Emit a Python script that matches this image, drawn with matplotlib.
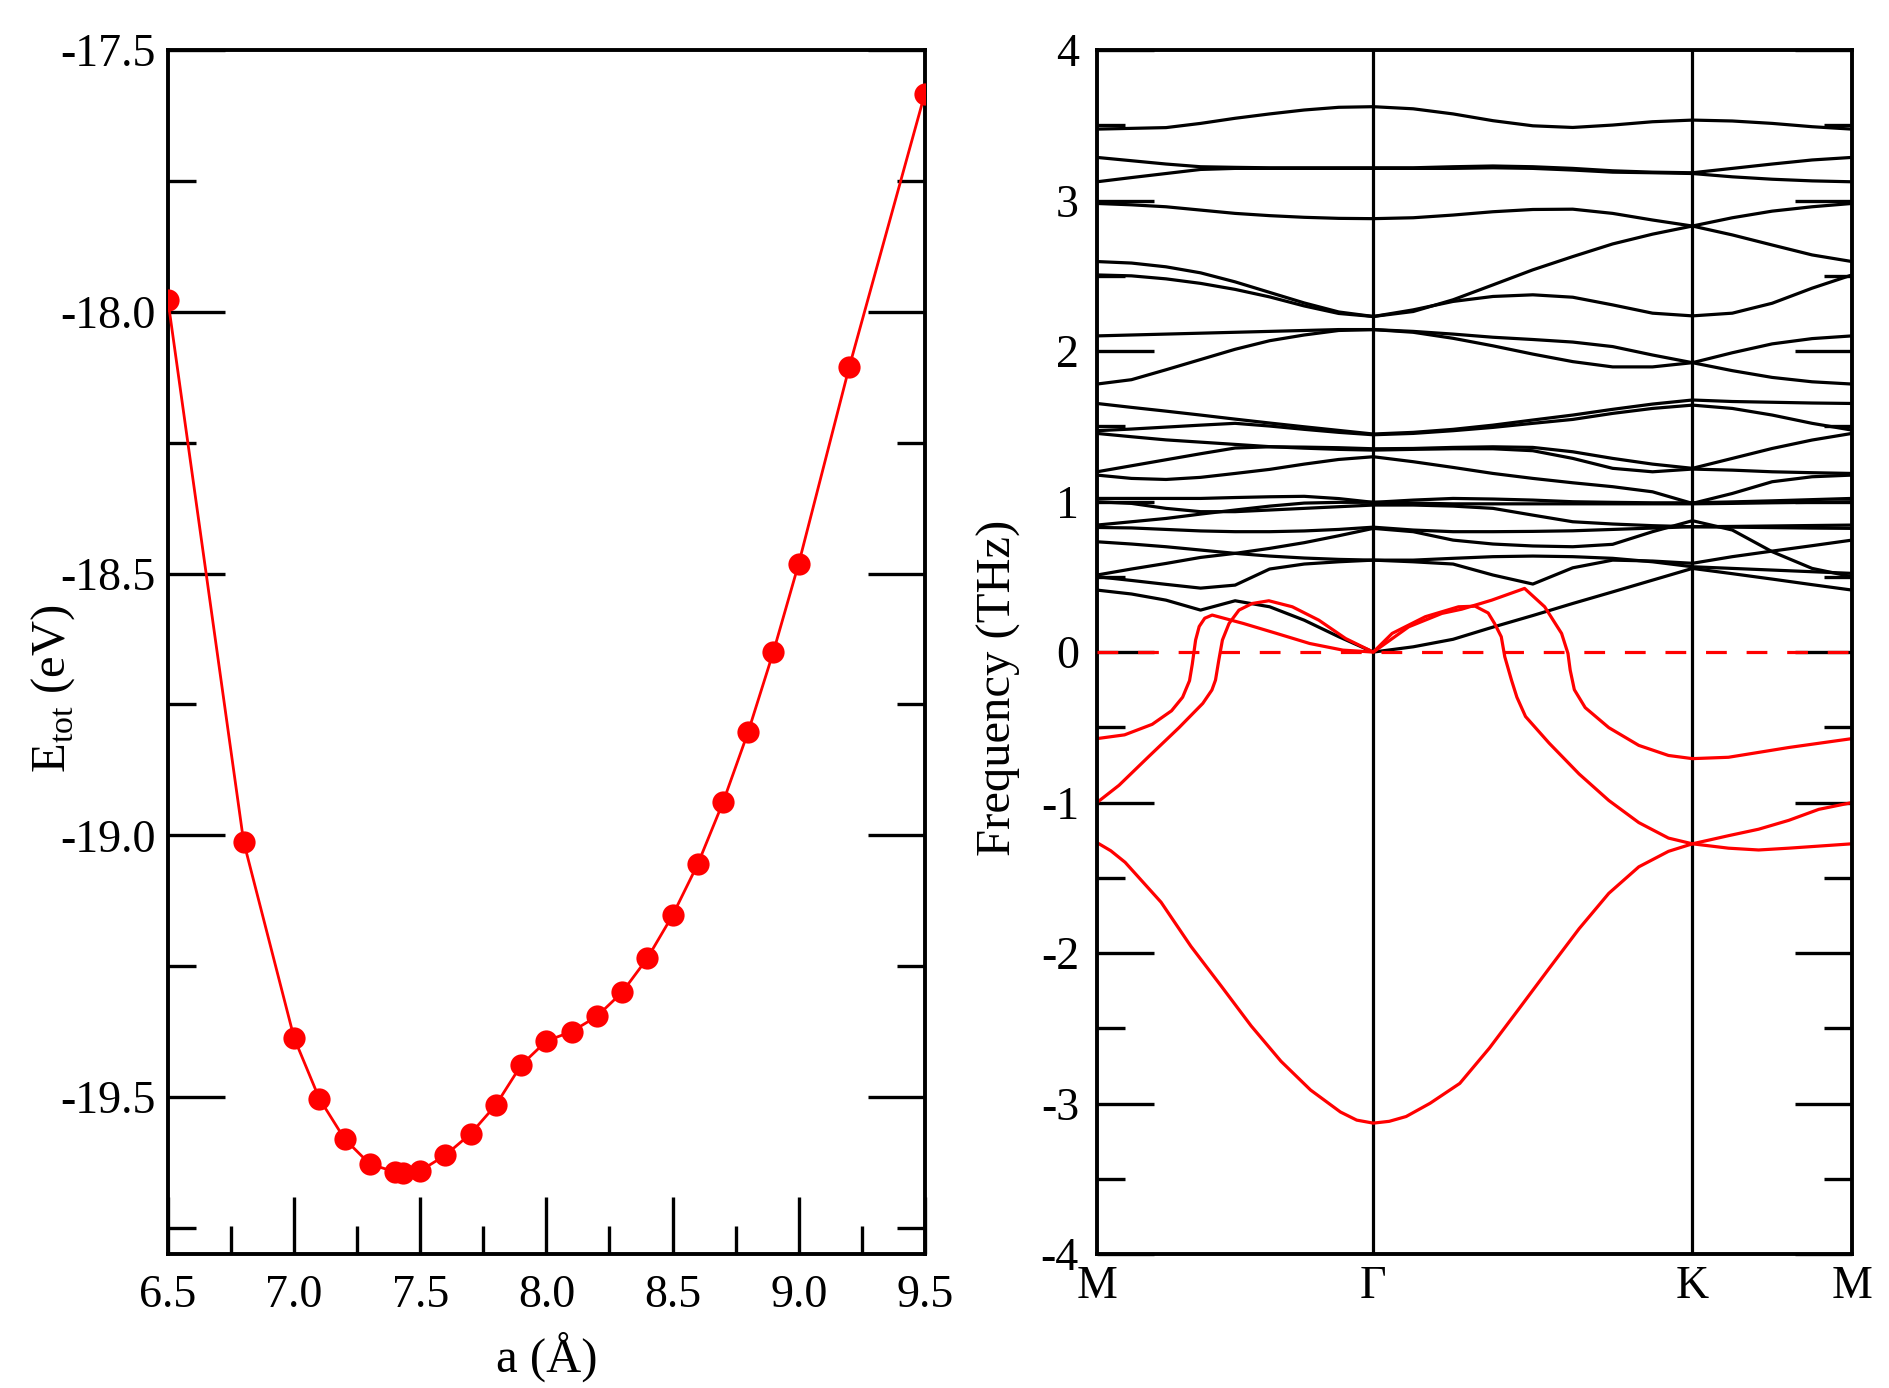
import numpy as np
import matplotlib
matplotlib.use("Agg")
import matplotlib.pyplot as plt
from matplotlib.ticker import MultipleLocator, FormatStrFormatter

plt.rcParams['font.family'] = ['Liberation Serif', 'DejaVu Serif']
plt.rcParams['mathtext.fontset'] = 'custom'
plt.rcParams['mathtext.rm'] = 'Liberation Serif'
plt.rcParams['axes.unicode_minus'] = False

# ---------------- left panel data: E_tot vs lattice constant ----------------
a_vals = [6.5, 6.8, 7.0, 7.1, 7.2, 7.3, 7.4, 7.43, 7.5, 7.6, 7.7, 7.8, 7.9, 8.0,
          8.1, 8.2, 8.3, 8.4, 8.5, 8.6, 8.7, 8.8, 8.9, 9.0, 9.2, 9.5]
E_vals = [-17.978, -19.012, -19.387, -19.503, -19.580, -19.628, -19.643, -19.646,
          -19.641, -19.611, -19.570, -19.515, -19.439, -19.393, -19.375, -19.346,
          -19.300, -19.235, -19.153, -19.055, -18.937, -18.802, -18.649, -18.481,
          -18.106, -17.583]

# ---------------- right panel data: phonon bands ----------------
path_labels = ['M', 'Γ', 'K', 'M']
seg_lengths = [0.866, 1.0, 0.5]          # |MΓ| : |ΓK| : |KM|
n_sub = [8, 8, 4]                        # sampling of each segment

# black bands (THz) sampled along M-Γ (9 pts), Γ-K (8 more), K-M (4 more)
black_bands = [
    [3.475, 3.48, 3.485, 3.513, 3.547, 3.576, 3.602, 3.62, 3.624, 3.61, 3.576, 3.531, 3.497, 3.486, 3.502, 3.524, 3.535, 3.529, 3.513, 3.491, 3.475],
    [3.287, 3.265, 3.243, 3.225, 3.221, 3.218, 3.218, 3.218, 3.218, 3.218, 3.225, 3.23, 3.225, 3.214, 3.198, 3.189, 3.185, 3.214, 3.243, 3.27, 3.287],
    [3.125, 3.153, 3.18, 3.207, 3.214, 3.214, 3.214, 3.214, 3.214, 3.214, 3.214, 3.218, 3.214, 3.203, 3.189, 3.185, 3.18, 3.158, 3.142, 3.131, 3.125],
    [2.981, 2.972, 2.959, 2.937, 2.915, 2.9, 2.889, 2.882, 2.88, 2.886, 2.904, 2.926, 2.941, 2.943, 2.915, 2.871, 2.831, 2.772, 2.705, 2.639, 2.595],
    [2.595, 2.585, 2.56, 2.52, 2.46, 2.39, 2.32, 2.26, 2.23, 2.263, 2.341, 2.44, 2.54, 2.628, 2.712, 2.777, 2.831, 2.886, 2.93, 2.959, 2.981],
    [2.506, 2.5, 2.48, 2.45, 2.41, 2.36, 2.30, 2.25, 2.23, 2.274, 2.33, 2.363, 2.374, 2.358, 2.307, 2.252, 2.234, 2.252, 2.318, 2.418, 2.506],
    [2.101, 2.107, 2.113, 2.119, 2.125, 2.131, 2.137, 2.143, 2.143, 2.131, 2.113, 2.092, 2.077, 2.06, 2.03, 1.974, 1.923, 1.87, 1.825, 1.796, 1.781],
    [1.781, 1.81, 1.876, 1.944, 2.012, 2.069, 2.107, 2.137, 2.143, 2.125, 2.085, 2.035, 1.98, 1.93, 1.895, 1.895, 1.923, 1.989, 2.048, 2.083, 2.101],
    [1.652, 1.626, 1.601, 1.575, 1.548, 1.522, 1.497, 1.473, 1.449, 1.46, 1.48, 1.508, 1.542, 1.575, 1.613, 1.648, 1.675, 1.665, 1.66, 1.655, 1.652],
    [1.471, 1.482, 1.495, 1.508, 1.52, 1.502, 1.48, 1.46, 1.444, 1.453, 1.471, 1.493, 1.52, 1.546, 1.586, 1.619, 1.641, 1.619, 1.575, 1.52, 1.475],
    [1.453, 1.431, 1.41, 1.395, 1.38, 1.365, 1.355, 1.347, 1.342, 1.347, 1.351, 1.351, 1.338, 1.287, 1.221, 1.198, 1.216, 1.209, 1.198, 1.192, 1.187],
    [1.198, 1.238, 1.278, 1.318, 1.356, 1.364, 1.362, 1.358, 1.351, 1.353, 1.36, 1.364, 1.36, 1.331, 1.287, 1.249, 1.221, 1.287, 1.353, 1.409, 1.453],
    [1.176, 1.154, 1.147, 1.161, 1.187, 1.214, 1.249, 1.28, 1.298, 1.265, 1.227, 1.187, 1.154, 1.125, 1.099, 1.065, 0.988, 1.054, 1.132, 1.165, 1.176],
    [1.021, 1.021, 1.021, 1.021, 1.027, 1.032, 1.035, 1.02, 0.995, 1.01, 1.021, 1.017, 1.01, 0.999, 0.995, 0.992, 0.992, 0.998, 1.005, 1.013, 1.021],
    [0.999, 0.988, 0.955, 0.933, 0.933, 0.944, 0.955, 0.966, 0.977, 0.977, 0.97, 0.955, 0.91, 0.866, 0.851, 0.84, 0.833, 0.835, 0.838, 0.841, 0.844],
    [0.844, 0.866, 0.888, 0.917, 0.944, 0.97, 0.99, 0.995, 0.995, 0.99, 0.985, 0.985, 0.985, 0.985, 0.985, 0.985, 0.985, 0.988, 0.992, 0.995, 0.999],
    [0.828, 0.825, 0.815, 0.805, 0.8, 0.8, 0.805, 0.815, 0.83, 0.811, 0.8, 0.8, 0.802, 0.806, 0.815, 0.824, 0.833, 0.83, 0.827, 0.824, 0.822],
    [0.733, 0.718, 0.7, 0.678, 0.656, 0.638, 0.625, 0.616, 0.611, 0.6, 0.585, 0.512, 0.452, 0.56, 0.611, 0.605, 0.59, 0.634, 0.671, 0.707, 0.744],
    [0.512, 0.552, 0.589, 0.629, 0.656, 0.689, 0.727, 0.773, 0.822, 0.8, 0.744, 0.718, 0.705, 0.7, 0.716, 0.8, 0.873, 0.811, 0.667, 0.556, 0.501],
    [0.501, 0.476, 0.45, 0.425, 0.445, 0.552, 0.585, 0.6, 0.611, 0.611, 0.623, 0.634, 0.638, 0.634, 0.623, 0.6, 0.567, 0.556, 0.545, 0.534, 0.523],
    [0.412, 0.386, 0.345, 0.279, 0.341, 0.301, 0.212, 0.102, 0.0, 0.035, 0.085, 0.166, 0.243, 0.323, 0.4, 0.478, 0.556, 0.521, 0.485, 0.448, 0.412],
]

# red (imaginary) bands: per segment (fraction along segment, frequency)
redA_MG_t = [0, 0.1, 0.2, 0.27, 0.31, 0.335, 0.345, 0.357, 0.37, 0.39, 0.417, 0.53, 0.65, 0.77, 0.89, 1.0]
redA_MG_f = [-0.575, -0.55, -0.48, -0.39, -0.30, -0.19, -0.08, 0.08, 0.17, 0.225, 0.246, 0.19, 0.124, 0.057, 0.013, 0.0]
redA_GK_t = [0, 0.059, 0.163, 0.267, 0.319, 0.36, 0.38, 0.401, 0.412, 0.433, 0.45, 0.477, 0.551, 0.645, 0.738, 0.832, 0.925, 1.0]
redA_GK_f = [0.0, 0.124, 0.235, 0.301, 0.305, 0.26, 0.19, 0.102, -0.031, -0.186, -0.30, -0.428, -0.605, -0.81, -0.986, -1.133, -1.236, -1.274]
redA_KM_t = [0, 0.226, 0.415, 0.604, 1.0]
redA_KM_f = [-1.274, -1.303, -1.315, -1.303, -1.274]

redB_MG_t = [0, 0.08, 0.188, 0.297, 0.383, 0.416, 0.429, 0.441, 0.454, 0.478, 0.514, 0.562, 0.622, 0.707, 0.803, 0.9, 1.0]
redB_MG_f = [-1.0, -0.885, -0.693, -0.502, -0.341, -0.252, -0.186, -0.053, 0.08, 0.19, 0.279, 0.323, 0.341, 0.301, 0.212, 0.09, 0.0]
redB_GK_t = [0, 0.111, 0.215, 0.277, 0.371, 0.474, 0.537, 0.59, 0.61, 0.617, 0.63, 0.664, 0.738, 0.832, 0.925, 1.0]
redB_GK_f = [0.0, 0.168, 0.257, 0.285, 0.345, 0.423, 0.301, 0.124, -0.009, -0.12, -0.25, -0.369, -0.502, -0.62, -0.687, -0.708]
redB_KM_t = [0, 0.226, 0.604, 1.0]
redB_KM_f = [-0.708, -0.699, -0.634, -0.575]

redC_MG_t = [0, 0.05, 0.102, 0.232, 0.34, 0.45, 0.558, 0.666, 0.773, 0.881, 0.94, 1.0]
redC_MG_f = [-1.266, -1.32, -1.397, -1.662, -1.955, -2.22, -2.484, -2.719, -2.91, -3.056, -3.11, -3.13]
redC_GK_t = [0, 0.05, 0.103, 0.178, 0.271, 0.364, 0.458, 0.551, 0.645, 0.738, 0.832, 0.925, 1.0]
redC_GK_f = [-3.13, -3.118, -3.086, -2.998, -2.866, -2.631, -2.366, -2.102, -1.838, -1.603, -1.427, -1.324, -1.274]
redC_KM_t = [0, 0.226, 0.415, 0.604, 0.792, 1.0]
redC_KM_f = [-1.274, -1.22, -1.177, -1.118, -1.045, -1.0]

# ---------------- figure ----------------
fig = plt.figure(figsize=(18.89, 13.88), dpi=100)
TICK_FS = 33
LABEL_FS = 35
SPINE_W = 2.8
TICK_W = 2.4

# ---- left panel ----
ax1 = fig.add_axes([0.0889, 0.0965, 0.4007, 0.8674])
ax1.plot(a_vals, E_vals, color='red', lw=2.0, marker='o', ms=16,
         mec='none', mfc='red', zorder=3)
ax1.set_xlim(6.5, 9.5)
ax1.set_ylim(-19.8, -17.5)
ax1.xaxis.set_major_locator(MultipleLocator(0.5))
ax1.xaxis.set_minor_locator(MultipleLocator(0.25))
ax1.yaxis.set_major_locator(MultipleLocator(0.5))
ax1.yaxis.set_minor_locator(MultipleLocator(0.25))
ax1.xaxis.set_major_formatter(FormatStrFormatter('%.1f'))
ax1.yaxis.set_major_formatter(FormatStrFormatter('%.1f'))
ax1.tick_params(which='both', direction='in', left=True, right=True,
                bottom=True, top=False, width=TICK_W, labelsize=TICK_FS)
ax1.tick_params(which='major', length=41)
ax1.tick_params(which='minor', length=20)
ax1.tick_params(axis='y', pad=9)
ax1.tick_params(axis='x', pad=15)
for s in ax1.spines.values():
    s.set_linewidth(SPINE_W)
ax1.set_xlabel('a (Å)', fontsize=LABEL_FS)
ax1.set_ylabel(r'E$_{\mathrm{tot}}$ (eV)', fontsize=LABEL_FS)
ax1.yaxis.set_label_coords(-0.12, 0.47)
ax1.xaxis.set_label_coords(0.5, -0.064)

# ---- right panel ----
ax2 = fig.add_axes([0.5807, 0.0965, 0.3997, 0.8674])
seg_start = np.concatenate([[0.0], np.cumsum(seg_lengths)])

# k positions of the common sampling grid
k_grid = [seg_start[0]]
for s, (L, n) in enumerate(zip(seg_lengths, n_sub)):
    for i in range(1, n + 1):
        k_grid.append(seg_start[s] + L * i / n)
k_grid = np.array(k_grid)

for band in black_bands:
    ax2.plot(k_grid, band, color='black', lw=2.3, solid_joinstyle='round',
             solid_capstyle='round', zorder=2)

red_sets = [
    [(redA_MG_t, redA_MG_f), (redA_GK_t, redA_GK_f), (redA_KM_t, redA_KM_f)],
    [(redB_MG_t, redB_MG_f), (redB_GK_t, redB_GK_f), (redB_KM_t, redB_KM_f)],
    [(redC_MG_t, redC_MG_f), (redC_GK_t, redC_GK_f), (redC_KM_t, redC_KM_f)],
]
for band in red_sets:
    ks, fs = [], []
    for s, (t, f) in enumerate(band):
        ks.extend(seg_start[s] + seg_lengths[s] * np.asarray(t))
        fs.extend(f)
    ax2.plot(ks, fs, color='red', lw=2.3, solid_joinstyle='round', zorder=2.2)

ax2.axhline(0, color='red', lw=2.3, ls=(0, (6.5, 6.2)), zorder=3)
for x in seg_start[1:-1]:
    ax2.axvline(x, color='black', lw=2.3, zorder=2.1)

ax2.set_xlim(seg_start[0], seg_start[-1])
ax2.set_ylim(-4, 4)
ax2.set_xticks(seg_start)
ax2.set_xticklabels(path_labels)
ax2.yaxis.set_major_locator(MultipleLocator(1))
ax2.yaxis.set_minor_locator(MultipleLocator(0.5))
ax2.yaxis.set_major_formatter(FormatStrFormatter('%d'))
ax2.tick_params(which='both', direction='in', left=True, right=True,
                bottom=False, top=False, width=TICK_W, labelsize=TICK_FS)
ax2.tick_params(axis='y', which='major', length=41, pad=13)
ax2.tick_params(axis='y', which='minor', length=20)
ax2.tick_params(axis='x', which='major', length=0, pad=8)
for s in ax2.spines.values():
    s.set_linewidth(SPINE_W)
ax2.set_ylabel('Frequency (THz)', fontsize=LABEL_FS)
ax2.yaxis.set_label_coords(-0.10, 0.47)

fig.savefig('out.png', dpi=100)
